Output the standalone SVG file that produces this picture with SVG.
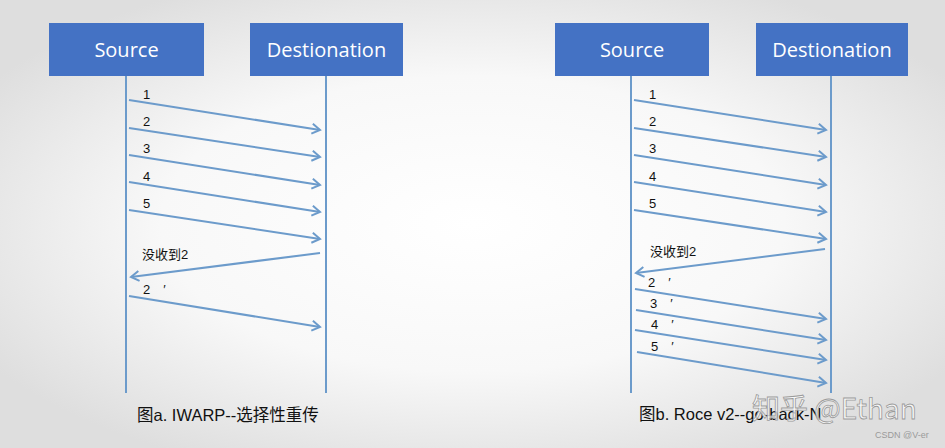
<svg xmlns="http://www.w3.org/2000/svg" width="945" height="448" viewBox="0 0 945 448">
<style>
.box{fill:#4472C4;}
.boxt{fill:#ffffff;font-family:"Open Sans","Liberation Sans",sans-serif;font-size:20px;text-anchor:middle;}
.life{stroke:#6C9BCB;stroke-width:2;fill:none;}
.msg{stroke:#6C9BCB;stroke-width:2;fill:none;marker-end:url(#ah);}
.lbl{fill:#111;font-family:"Liberation Sans","Noto Sans CJK SC",sans-serif;font-size:13px;}
.cap{fill:#111;font-family:"Liberation Sans","Noto Sans CJK SC",sans-serif;font-size:16.5px;}
</style>
<defs>
<radialGradient id="bg" cx="0.5" cy="0.5" r="0.6">
<stop offset="0" stop-color="#ffffff"/>
<stop offset="0.55" stop-color="#f8f8f8"/>
<stop offset="1" stop-color="#dedede"/>
</radialGradient>
<marker id="ah" markerUnits="userSpaceOnUse" markerWidth="12" markerHeight="12" refX="9" refY="6" orient="auto">
<path d="M1,1 L9,6 L1,11" fill="none" stroke="#6C9BCB" stroke-width="2"/>
</marker>
</defs>
<rect x="0" y="0" width="945" height="448" fill="url(#bg)"/>

<g id="a-source"><rect class="box" x="49" y="23" width="155" height="53"/><text class="boxt" x="126.5" y="57">Source</text></g>
<g id="a-destination"><rect class="box" x="250" y="23" width="153" height="53"/><text class="boxt" x="326.5" y="57">Destionation</text></g>
<g id="b-source"><rect class="box" x="555" y="23" width="154" height="53"/><text class="boxt" x="632" y="57">Source</text></g>
<g id="b-destination"><rect class="box" x="756" y="23" width="152" height="53"/><text class="boxt" x="832" y="57">Destionation</text></g>

<g id="connectors">
<line class="life" x1="126" y1="76" x2="126" y2="393"/>
<line class="life" x1="326" y1="76" x2="326" y2="393"/>
<line class="life" x1="631" y1="76" x2="631" y2="393"/>
<line class="life" x1="831" y1="76" x2="831" y2="393"/>

<line class="msg" x1="129" y1="100" x2="320" y2="130"/>
<line class="msg" x1="129" y1="128" x2="320" y2="157"/>
<line class="msg" x1="129" y1="155" x2="320" y2="185"/>
<line class="msg" x1="129" y1="182" x2="320" y2="212"/>
<line class="msg" x1="129" y1="210" x2="320" y2="239"/>
<line class="msg" x1="320" y1="253" x2="131" y2="277"/>
<line class="msg" x1="129" y1="296" x2="320" y2="327"/>

<line class="msg" x1="634" y1="100" x2="826" y2="130"/>
<line class="msg" x1="634" y1="128" x2="826" y2="157"/>
<line class="msg" x1="634" y1="155" x2="826" y2="185"/>
<line class="msg" x1="634" y1="182" x2="826" y2="212"/>
<line class="msg" x1="634" y1="210" x2="826" y2="239"/>
<line class="msg" x1="825" y1="249" x2="636" y2="273"/>
<line class="msg" x1="635" y1="289" x2="826" y2="319"/>
<line class="msg" x1="636" y1="310" x2="826" y2="340"/>
<line class="msg" x1="635" y1="330" x2="826" y2="360"/>
<line class="msg" x1="637" y1="352" x2="826" y2="383"/>
</g>

<g id="labels">
<text class="lbl" x="143" y="99">1</text>
<text class="lbl" x="143" y="126">2</text>
<text class="lbl" x="143" y="153">3</text>
<text class="lbl" x="143" y="181">4</text>
<text class="lbl" x="143" y="208">5</text>
<text class="lbl" x="142" y="259">没收到2</text>
<text class="lbl" x="143" y="294">2　′</text>

<text class="lbl" x="649" y="99">1</text>
<text class="lbl" x="649" y="126">2</text>
<text class="lbl" x="649" y="153">3</text>
<text class="lbl" x="649" y="181">4</text>
<text class="lbl" x="649" y="208">5</text>
<text class="lbl" x="650" y="256">没收到2</text>
<text class="lbl" x="648" y="287">2　′</text>
<text class="lbl" x="650" y="308">3　′</text>
<text class="lbl" x="651" y="329">4　′</text>
<text class="lbl" x="651" y="351">5　′</text>

<text class="cap" x="137" y="421">图a. IWARP--选择性重传</text>
<text class="cap" x="639" y="420">图b. Roce v2--go-back-N</text>
</g>

<g id="watermark">
<text x="752" y="419" font-family="'Noto Sans CJK SC','Liberation Sans',sans-serif" font-size="28" fill="#ffffff" fill-opacity="0.75" stroke="#9a9a9a" stroke-width="0.8">知乎 @Ethan</text>
<text x="875" y="438" font-family="'Liberation Sans',sans-serif" font-size="9" fill="#9a9a9a">CSDN @V-er</text>
</g>
</svg>
